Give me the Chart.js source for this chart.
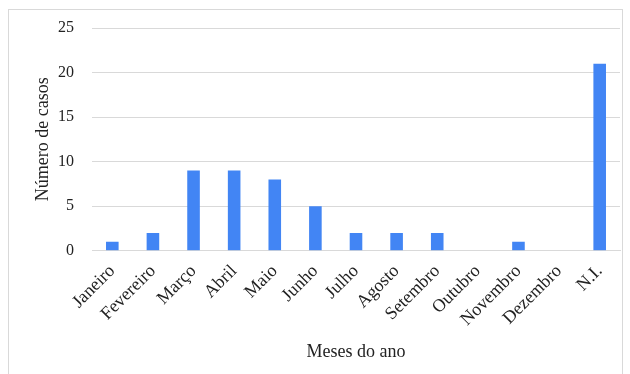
<!DOCTYPE html>
<html>
<head>
<meta charset="utf-8">
<script src="https://cdn.jsdelivr.net/npm/chart.js@4/dist/chart.umd.min.js"></script>
<style>
  html, body { margin: 0; padding: 0; background: #fff; }
  #frame { position: absolute; left: 8px; top: 9px; width: 613px; height: 370px; border: 1px solid #d9d9d9; }
  #wrap { position: absolute; left: 0; top: 0; width: 630px; height: 374px; }
</style>
</head>
<body>
<div id="frame"></div>
<div id="wrap"><canvas id="chart-casos"></canvas></div>
<script>
const meses = ['Janeiro', 'Fevereiro', 'Março', 'Abril', 'Maio', 'Junho', 'Julho',
  'Agosto', 'Setembro', 'Outubro', 'Novembro', 'Dezembro', 'N.I.'];
const casos = [1, 2, 9, 9, 8, 5, 2, 2, 2, 0, 1, 0, 21];
const yTicks = [0, 5, 10, 15, 20, 25];

const serif = '"Liberation Serif", "Times New Roman", serif';

const ctx = document.getElementById('chart-casos').getContext('2d');
new Chart(ctx, {
  type: 'bar',
  data: {
    labels: meses,
    datasets: [{
      label: 'Número de casos',
      data: casos,
      backgroundColor: '#4285f4',
      categoryPercentage: 1,
      barPercentage: 0.31
    }]
  },
  options: {
    responsive: true,
    maintainAspectRatio: false,
    animation: false,
    layout: { padding: { left: 34, right: 10, top: 28, bottom: 7 } },
    plugins: { legend: { display: false }, tooltip: { enabled: false } },
    scales: {
      x: {
        grid: { display: false },
        border: { color: '#d9d9d9' },
        ticks: {
          color: '#222', font: { family: serif, size: 18 },
          minRotation: 45, maxRotation: 45, padding: 2
        },
        title: { display: true, text: 'Meses do ano', color: '#222',
          font: { family: serif, size: 18 }, padding: { top: 9 } }
      },
      y: {
        min: 0, max: 25,
        afterBuildTicks: axis => { axis.ticks = yTicks.map(v => ({ value: v })); },
        // keep the y axis narrow: title + labels + gap
        afterFit: axis => { axis.width = 58; },
        grid: { color: '#d9d9d9', drawTicks: false },
        border: { display: false },
        ticks: { color: '#222', font: { family: serif, size: 16 }, padding: 18 },
        title: { display: true, text: 'Número de casos', color: '#222',
          font: { family: serif, size: 18, lineHeight: 1 }, padding: { top: 0, bottom: 6 } }
      }
    }
  }
});
</script>
</body>
</html>
